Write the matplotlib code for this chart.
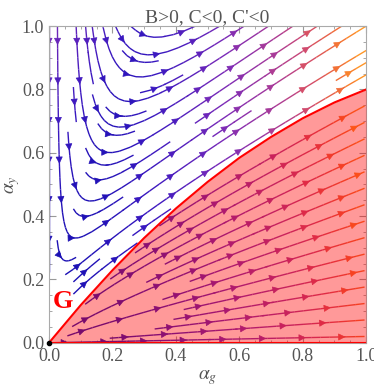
import numpy as np
import matplotlib
matplotlib.use("Agg")
import matplotlib.pyplot as plt
from matplotlib.colors import LinearSegmentedColormap, Normalize
from matplotlib.patches import FancyArrowPatch
from matplotlib.ticker import MultipleLocator
from matplotlib import rcParams

rcParams.update({'font.family': 'Liberation Serif', 'font.size': 13,
                 'mathtext.fontset': 'stix'})

TITLE = "B>0, C<0, C'<0"

# flow: d(a_g) = a_g (eps + B a_g), d(a_y) = a_y (eps + C a_g - C' a_y)
coef_eps = 0.12
coef_B = 2.5
coef_C = 2.5
coef_Cp = 1.0

# boundary of region G
bound_g = [0.0, 0.1, 0.2, 0.3, 0.4, 0.5, 0.6, 0.7, 0.8, 0.9, 1.0]
bound_y = [0.0, 0.119, 0.229, 0.331, 0.424, 0.508, 0.584, 0.650, 0.709, 0.759, 0.80]

# streamlines inside G seen leaving through the right edge
red_end_y = [0.02, 0.072, 0.124, 0.176, 0.228, 0.28, 0.332, 0.384, 0.436,
             0.488, 0.54, 0.592, 0.644, 0.696, 0.748]

# empty patch around the "G" label (no streamlines there)
label_gap_g = [0.0, 0.075]
label_gap_y = [0.0, 0.2]

ticks = [0.0, 0.2, 0.4, 0.6, 0.8, 1.0]
tick_labels = ["0.0", "0.2", "0.4", "0.6", "0.8", "1.0"]

stream_colors = [(0.0, '#1a10b4'), (0.1, '#3a18c0'), (0.3, '#7a2ab8'),
                 (0.5, '#a83a98'), (0.65, '#d04a70'), (0.8, '#f06a3a'),
                 (0.92, '#ff9224'), (1.0, '#ffae3a')]


def split_lines(segs, vals):
    out = []
    if len(segs) == 0:
        return out
    pts, cv = [segs[0][0], segs[0][1]], [vals[0]]
    for i in range(1, len(segs)):
        if np.allclose(segs[i][0], segs[i - 1][1]):
            pts.append(segs[i][1])
            cv.append(vals[i])
        else:
            out.append((np.array(pts), np.array(cv)))
            pts, cv = [segs[i][0], segs[i][1]], [vals[i]]
    out.append((np.array(pts), np.array(cv)))
    return out


def add_arrows(ax, lines, cmap, norm, start=0.06, step=0.125):
    for pts, cv in lines:
        d = np.diff(pts, axis=0)
        ds = np.hypot(d[:, 0], d[:, 1])
        s = np.concatenate([[0], np.cumsum(ds)])
        if s[-1] < 0.04:
            continue
        for t in np.arange(start, s[-1] - 0.005, step):
            i = np.searchsorted(s, t)
            i = min(max(i, 1), len(pts) - 1)
            if ds[i - 1] == 0:
                continue
            f = (t - s[i - 1]) / ds[i - 1]
            p = pts[i - 1] + f * d[i - 1]
            dirv = d[i - 1] / ds[i - 1]
            c = cmap(norm(cv[i - 1]))
            ax.add_patch(FancyArrowPatch(p - dirv * 0.002, p, arrowstyle='-|>',
                                         mutation_scale=11, color=c, lw=0.5,
                                         shrinkA=0, shrinkB=0, zorder=2.5))


def main():
    gx = np.linspace(0, 1, 201)
    gy = np.linspace(0, 1, 201)
    ag, ay = np.meshgrid(gx, gy)
    u = ag * (coef_eps + coef_B * ag)
    v = ay * (coef_eps + coef_C * ag - coef_Cp * ay)
    speed = np.sqrt(u**2 + v**2)

    edge = np.interp(ag, bound_g, bound_y)
    inside = ay < edge
    gap = ((ag > label_gap_g[0]) & (ag < label_gap_g[1]) &
           (ay > label_gap_y[0]) & (ay < label_gap_y[1]) & (ay > edge + 0.01))
    out_mask = inside | gap

    cmap = LinearSegmentedColormap.from_list("stream", stream_colors)
    norm = Normalize(0, speed.max())

    fig = plt.figure(figsize=(3.74, 3.90), dpi=100)
    ax = fig.add_axes([0.131, 0.121, 0.848, 0.812])

    # outside G
    res_out = ax.streamplot(gx, gy, np.ma.masked_where(out_mask, u),
                            np.ma.masked_where(out_mask, v),
                            color=speed, cmap=cmap, norm=norm, density=0.9,
                            linewidth=1.0, arrowstyle='-', zorder=2)
    # inside G, seeded at the right edge and traced back toward the origin
    seeds = np.column_stack([np.full(len(red_end_y), 0.995), red_end_y])
    res_in = ax.streamplot(gx, gy, np.ma.masked_where(~inside, u),
                           np.ma.masked_where(~inside, v),
                           color=speed, cmap=cmap, norm=norm, density=1.2,
                           start_points=seeds, integration_direction='backward',
                           linewidth=1.0, arrowstyle='-', zorder=2)
    for res in (res_out, res_in):
        lines = split_lines(res.lines.get_segments(), res.lines.get_array())
        add_arrows(ax, lines, cmap, norm)

    ax.fill_between(bound_g, 0, bound_y, color='red', alpha=0.4, lw=0, zorder=3)
    ax.plot(bound_g, bound_y, color='red', lw=1.5, zorder=4)
    ax.plot([0, 1], [0, 0], color='red', lw=1.5, zorder=4)
    ax.plot(0, 0, 'o', color='black', ms=3, zorder=5, clip_on=False)

    ax.text(0.045, 0.13, "G", color='red', fontsize=19, fontweight='bold',
            ha='center', va='center', zorder=6)

    ax.set_xlim(0, 1)
    ax.set_ylim(0, 1)
    ax.set_xticks(ticks)
    ax.set_xticklabels(tick_labels)
    ax.set_yticks(ticks)
    ax.set_yticklabels(tick_labels)
    ax.xaxis.set_minor_locator(MultipleLocator(0.05))
    ax.yaxis.set_minor_locator(MultipleLocator(0.05))
    ax.tick_params(which='both', direction='in', top=True, right=True,
                   colors='#999999', labelcolor='#555555', labelsize=13)
    ax.tick_params(which='major', length=5)
    ax.tick_params(which='minor', length=2.5)
    for sp in ax.spines.values():
        sp.set_color('#aaaaaa')

    ax.set_title(TITLE, color='#555555', fontsize=14, pad=3)
    ax.set_xlabel(r'$\alpha_g$', color='#555555', fontsize=14)
    ax.set_ylabel(r'$\alpha_y$', color='#555555', fontsize=14)
    ax.xaxis.set_label_coords(0.5, -0.079)
    ax.yaxis.set_label_coords(-0.085, 0.5)

    fig.savefig("out.png", dpi=100)
    plt.close()


if __name__ == "__main__":
    main()
